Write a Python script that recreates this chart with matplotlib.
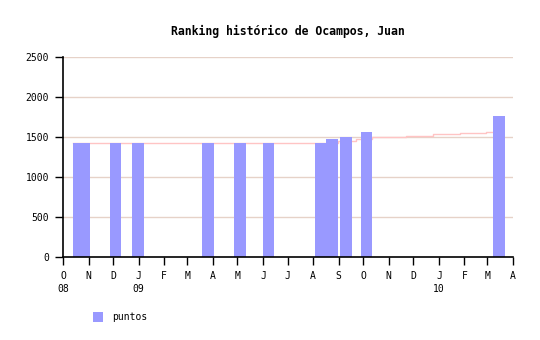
import matplotlib
matplotlib.use("Agg")
import matplotlib.pyplot as plt
import matplotlib.dates as mdates
from matplotlib.patches import Rectangle
from matplotlib.transforms import blended_transform_factory
import numpy as np
import datetime as dt

plt.rcParams['font.family'] = ['DejaVu Sans Mono']

title = "Ranking histórico de Ocampos, Juan"
series_name = "puntos"

bar_dates = ["2008-10-13", "2008-10-20", "2008-11-27", "2008-12-24", "2009-03-19",
             "2009-04-27", "2009-06-01", "2009-08-03", "2009-08-17", "2009-09-03",
             "2009-09-28", "2010-03-08"]
bar_values = [1420, 1420, 1420, 1420, 1420, 1420, 1420, 1420, 1480, 1500, 1560, 1760]

trend_dates = ["2008-10-13", "2009-08-31", "2009-09-22", "2009-10-11", "2009-10-21",
               "2009-11-22", "2009-12-25", "2010-01-27", "2010-02-27", "2010-03-16"]
trend_values = [1420, 1455, 1475, 1500, 1505, 1515, 1535, 1550, 1558, 1558]

month_letters = ["O", "N", "D", "J", "F", "M", "A", "M", "J", "J", "A", "S",
                 "O", "N", "D", "J", "F", "M", "A"]
year_labels = {"2008-10-01": "08", "2009-01-01": "09", "2010-01-01": "10"}
y_ticks = [0, 500, 1000, 1500, 2000, 2500]

fig = plt.figure(figsize=(5.4, 3.4), dpi=100)
ax = fig.add_axes([63/540, 1-257/340, 450/540, 200/340])

bd = [mdates.date2num(dt.datetime.fromisoformat(d)) for d in bar_dates]
td = [mdates.date2num(dt.datetime.fromisoformat(d)) for d in trend_dates]

ax.bar(bd, bar_values, width=14, align='edge', color='#9999ff', zorder=3, linewidth=0)
ax.step(td, trend_values, where='post', color='#ffc4c4', linewidth=1.0, zorder=2)

x0 = mdates.date2num(dt.datetime(2008, 10, 1))
x1 = mdates.date2num(dt.datetime(2010, 4, 1))
ax.set_xlim(x0, x1)
ax.set_ylim(0, 2500)

# month ticks
ticks = []
y, m = 2008, 10
for i in range(len(month_letters)):
    ticks.append(mdates.date2num(dt.datetime(y, m, 1)))
    m += 1
    if m > 12:
        m = 1
        y += 1
ax.set_xticks(ticks)
ax.set_xticklabels(month_letters, fontsize=7)
ax.set_yticks(y_ticks)
ax.set_yticklabels([str(v) for v in y_ticks], fontsize=7)

ax.tick_params(axis='x', length=6, width=1, pad=4, colors='black')
ax.tick_params(axis='y', length=6, width=1, pad=4, colors='black')

trans = blended_transform_factory(ax.transData, ax.transAxes)
for d, lab in year_labels.items():
    xv = mdates.date2num(dt.datetime.fromisoformat(d))
    ax.text(xv, -0.135, lab, transform=trans, ha='center', va='top', fontsize=7)

for v in y_ticks[1:]:
    ax.axhline(v, color='#e6d2c8', linewidth=1.0, zorder=1)

for s in ['top', 'right']:
    ax.spines[s].set_visible(False)
for s in ['left', 'bottom']:
    ax.spines[s].set_linewidth(1.2)
    ax.spines[s].set_zorder(5)

fig.text(288/540, 1-31/340, title, ha='center', va='center', fontsize=8.3, fontweight='bold')

fig.patches.append(Rectangle((93/540, 1-322/340), 10/540, 10/340, transform=fig.transFigure,
                             facecolor='#9999ff', edgecolor='none'))
fig.text(112/540, 1-317/340, series_name, ha='left', va='center', fontsize=7)

fig.savefig("out.png", dpi=100)
